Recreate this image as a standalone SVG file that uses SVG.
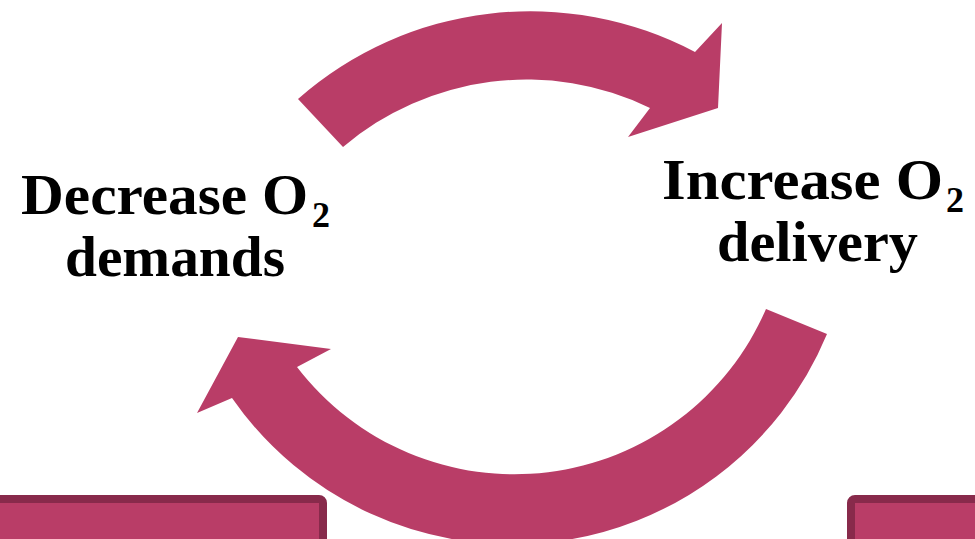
<svg xmlns="http://www.w3.org/2000/svg" width="975" height="539" viewBox="0 0 975 539">
<style>
.arrow{fill:#B93D67;stroke:none}
.box{fill:#B93D67;stroke:#882A4B;stroke-width:8}
.lbl{font-family:"Liberation Serif","Times New Roman",serif;font-weight:bold;fill:#000;font-size:56px}
.sub{font-size:36px}
</style>
<rect width="975" height="539" fill="#fff"/>
<g id="connectors">
<path id="arrow-top" class="arrow" d="M298,99 A352,352 0 0 1 695,52 L722,23 L718,108 L628,137 L650,108 A283,283 0 0 0 343,147 Z"/>
<path id="arrow-bottom" class="arrow" d="M827,334 A341,341 0 0 1 232,398 L197,413 L238,337 L331,349 L297,367 A274,274 0 0 0 766,309 Z"/>
</g>
<g id="node-decrease">
<text class="lbl"><tspan x="21" y="214" textLength="287" lengthAdjust="spacingAndGlyphs">Decrease O</tspan><tspan class="sub" x="312" y="227">2</tspan><tspan x="65" y="276" textLength="220" lengthAdjust="spacingAndGlyphs">demands</tspan></text>
</g>
<g id="node-increase">
<text class="lbl"><tspan x="662" y="199" textLength="281" lengthAdjust="spacingAndGlyphs">Increase O</tspan><tspan class="sub" x="946" y="212">2</tspan><tspan x="717" y="261" textLength="201" lengthAdjust="spacingAndGlyphs">delivery</tspan></text>
</g>
<g id="box-left">
<rect class="box" x="-20" y="499" width="343" height="80" rx="4"/>
</g>
<g id="box-right">
<rect class="box" x="851" y="499" width="160" height="80" rx="4"/>
</g>
</svg>
